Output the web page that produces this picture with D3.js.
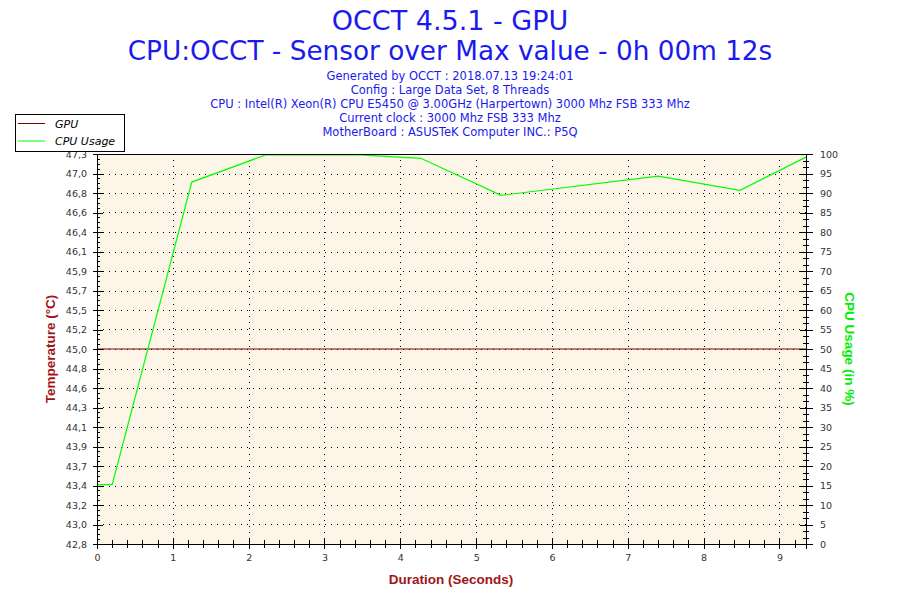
<!DOCTYPE html>
<html>
<head>
<meta charset="utf-8">
<script src="https://cdn.jsdelivr.net/npm/d3@7"></script>
<style>
  body { margin: 0; background: #fff; }
  .tick text { font-family: "DejaVu Sans", Verdana, sans-serif; font-size: 9.5px; fill: #333; }
  .axis path, .axis line { stroke: #000; shape-rendering: crispEdges; }
</style>
</head>
<body>
<div id="target"></div>
<script>
const width = 900,
  height = 600;

// chart values
const titleLines = ["OCCT 4.5.1 - GPU", "CPU:OCCT - Sensor over Max value - 0h 00m 12s"];
const infoLines = [
  "Generated by OCCT : 2018.07.13 19:24:01",
  "Config : Large Data Set, 8 Threads",
  "CPU : Intel(R) Xeon(R) CPU E5450 @ 3.00GHz (Harpertown) 3000 Mhz FSB 333 Mhz",
  "Current clock : 3000 Mhz FSB 333 Mhz",
  "MotherBoard : ASUSTeK Computer INC.: P5Q"
];
const seriesNames = ["GPU", "CPU Usage"];
const timeSec = [0, 0.2, 1.25, 2.23, 3.47, 4.27, 5.33, 7.40, 8.48, 9.35];
const gpuTemp = [45.0, 45.0, 45.0, 45.0, 45.0, 45.0, 45.0, 45.0, 45.0, 45.0];
const cpuUsage = [15.2, 15.2, 92.8, 99.8, 99.8, 98.9, 89.4, 94.3, 90.7, 99.2];
const tempDomain = [42.75, 47.25];
const tempTickLabels = ["42,8", "43,0", "43,2", "43,4", "43,7", "43,9", "44,1", "44,3", "44,6", "44,8",
  "45,0", "45,2", "45,5", "45,7", "45,9", "46,1", "46,4", "46,6", "46,8", "47,0", "47,3"];
const cpuTicks = [0, 5, 10, 15, 20, 25, 30, 35, 40, 45, 50, 55, 60, 65, 70, 75, 80, 85, 90, 95, 100];
const timeTicks = [0, 1, 2, 3, 4, 5, 6, 7, 8, 9];
const timeMax = 9.35;

const pLeft = 97, pRight = 806, pTop = 154, pBottom = 544;
const darkRed = "#a01515", green = "#00ee00", blue = "#1a1aee";

const x = d3.scaleLinear().domain([0, timeMax]).range([pLeft, pRight]);
const yT = d3.scaleLinear().domain(tempDomain).range([pBottom, pTop]);
const yC = d3.scaleLinear().domain([0, 100]).range([pBottom, pTop]);

const tempStep = (tempDomain[1] - tempDomain[0]) / (tempTickLabels.length - 1);
const tempTicks = tempTickLabels.map((d, i) => tempDomain[0] + i * tempStep);
const tempMinor = d3.range((tempTickLabels.length - 1) * 4 + 1).map(i => tempDomain[0] + i * tempStep / 4);
const cpuMinor = d3.range(0, 100.01, 5 / 3);
const timeMinor = d3.range(0, timeMax, 0.2);

const svg = d3.select("#target").append("svg")
  .attr("width", width)
  .attr("height", height);

// titles
svg.selectAll(".title")
  .data(titleLines)
  .enter()
  .append("text")
  .attr("x", 450)
  .attr("y", (d, i) => 30 + i * 30)
  .attr("text-anchor", "middle")
  .style("font-family", "'DejaVu Sans', Verdana, sans-serif")
  .style("font-size", (d, i) => i === 0 ? "27px" : "26.3px")
  .style("fill", blue)
  .text(d => d);

svg.selectAll(".info")
  .data(infoLines)
  .enter()
  .append("text")
  .attr("x", 450)
  .attr("y", (d, i) => 80 + i * 14)
  .attr("text-anchor", "middle")
  .style("font-family", "'DejaVu Sans', Verdana, sans-serif")
  .style("font-size", "11.5px")
  .style("fill", blue)
  .text(d => d);

// plot background + grid
svg.append("rect")
  .attr("x", pLeft).attr("y", pTop)
  .attr("width", pRight - pLeft).attr("height", pBottom - pTop)
  .style("fill", "#fdf5e8");

svg.append("g")
  .selectAll("line")
  .data(tempTicks.slice(1, -1))
  .enter()
  .append("line")
  .attr("x1", pLeft).attr("x2", pRight)
  .attr("y1", d => Math.round(yT(d)) + 0.5).attr("y2", d => Math.round(yT(d)) + 0.5)
  .style("stroke", "#000")
  .style("stroke-dasharray", "1,5");

svg.append("g")
  .selectAll("line")
  .data(timeTicks.slice(1))
  .enter()
  .append("line")
  .attr("x1", d => Math.round(x(d)) + 0.5).attr("x2", d => Math.round(x(d)) + 0.5)
  .attr("y1", pTop).attr("y2", pBottom)
  .style("stroke", "#000")
  .style("stroke-dasharray", "1,5");

// series
const gpuLine = d3.line().x((d, i) => x(timeSec[i])).y(d => yT(d));
const cpuLine = d3.line().x((d, i) => x(timeSec[i])).y(d => yC(d));

svg.append("path")
  .attr("d", gpuLine(gpuTemp))
  .style("fill", "none")
  .style("stroke", "#800000")
  .style("stroke-width", 1);

svg.append("path")
  .attr("d", cpuLine(cpuUsage))
  .style("fill", "none")
  .style("stroke", "#00ff00")
  .style("stroke-width", 1.2);

// left axis: labels + outward ticks, inward ticks, minor ticks
svg.append("g").attr("class", "axis")
  .attr("transform", `translate(${pLeft},0)`)
  .call(d3.axisLeft(yT).tickValues(tempTicks).tickSize(4).tickPadding(6)
    .tickFormat((d, i) => tempTickLabels[i]));
svg.append("g").attr("class", "axis")
  .attr("transform", `translate(${pLeft},0)`)
  .call(d3.axisRight(yT).tickValues(tempTicks).tickSize(6).tickFormat(""));
svg.append("g").attr("class", "axis")
  .attr("transform", `translate(${pLeft},0)`)
  .call(d3.axisRight(yT).tickValues(tempMinor).tickSize(3).tickFormat(""));

// right axis
svg.append("g").attr("class", "axis")
  .attr("transform", `translate(${pRight},0)`)
  .call(d3.axisRight(yC).tickValues(cpuTicks).tickSize(7).tickPadding(7));
svg.append("g").attr("class", "axis")
  .attr("transform", `translate(${pRight},0)`)
  .call(d3.axisLeft(yC).tickValues(cpuTicks).tickSize(6).tickFormat(""));
svg.append("g").attr("class", "axis")
  .attr("transform", `translate(${pRight},0)`)
  .call(d3.axisLeft(yC).tickValues(cpuMinor).tickSize(3).tickFormat(""));
svg.append("g").attr("class", "axis")
  .attr("transform", `translate(${pRight},0)`)
  .call(d3.axisRight(yC).tickValues(cpuMinor).tickSize(3).tickFormat(""));

// bottom axis
svg.append("g").attr("class", "axis")
  .attr("transform", `translate(0,${pBottom})`)
  .call(d3.axisBottom(x).tickValues(timeTicks).tickSize(5).tickPadding(5));
svg.append("g").attr("class", "axis")
  .attr("transform", `translate(0,${pBottom})`)
  .call(d3.axisTop(x).tickValues(timeTicks).tickSize(5).tickFormat(""));
svg.append("g").attr("class", "axis")
  .attr("transform", `translate(0,${pBottom})`)
  .call(d3.axisBottom(x).tickValues(timeMinor).tickSize(4).tickFormat(""));
svg.append("g").attr("class", "axis")
  .attr("transform", `translate(0,${pBottom})`)
  .call(d3.axisTop(x).tickValues(timeMinor).tickSize(4).tickFormat(""));

svg.selectAll(".axis .domain").style("stroke", "#000");

// frame
svg.append("rect")
  .attr("x", pLeft + 0.5).attr("y", pTop + 0.5)
  .attr("width", pRight - pLeft).attr("height", pBottom - pTop)
  .style("fill", "none")
  .style("stroke", "#000")
  .style("shape-rendering", "crispEdges");

// axis titles
const axisFont = "'Liberation Sans Narrow', 'Arial Narrow', 'Liberation Sans', sans-serif";
svg.append("text")
  .attr("x", 451).attr("y", 584)
  .attr("text-anchor", "middle")
  .style("font-family", axisFont).style("font-weight", "bold").style("font-size", "13.5px")
  .style("fill", darkRed)
  .text("Duration (Seconds)");

svg.append("text")
  .attr("transform", `translate(55,${(pTop + pBottom) / 2}) rotate(-90)`)
  .attr("text-anchor", "middle")
  .style("font-family", axisFont).style("font-weight", "bold").style("font-size", "13.5px")
  .style("fill", darkRed)
  .text("Temperature (°C)");

svg.append("text")
  .attr("transform", `translate(845,${(pTop + pBottom) / 2}) rotate(90)`)
  .attr("text-anchor", "middle")
  .style("font-family", axisFont).style("font-weight", "bold").style("font-size", "13.5px")
  .style("fill", green)
  .text("CPU Usage (in %)");

// legend
const legend = svg.append("g");
legend.append("rect")
  .attr("x", 15.5).attr("y", 114.5)
  .attr("width", 109).attr("height", 37)
  .style("fill", "#fff")
  .style("stroke", "#000");
const legendColors = ["#800000", "#00ff00"];
const items = legend.selectAll(".item")
  .data(seriesNames)
  .enter()
  .append("g")
  .attr("transform", (d, i) => `translate(0,${123.5 + i * 17.5})`);
items.append("line")
  .attr("x1", 18).attr("x2", 45)
  .style("stroke", (d, i) => legendColors[i]);
items.append("text")
  .attr("x", 55).attr("y", 4)
  .style("font-family", "'DejaVu Sans', Verdana, sans-serif")
  .style("font-style", "italic")
  .style("font-size", "11px")
  .style("fill", "#000")
  .text(d => d);
</script>
</body>
</html>
